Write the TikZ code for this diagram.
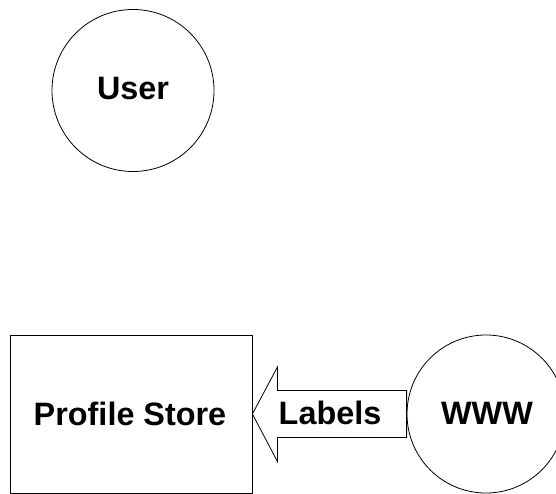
\documentclass[tikz,border=0pt]{standalone}
\usepackage{fontspec}
\setmainfont{Liberation Sans}
\usetikzlibrary{calc}
\begin{document}
\begin{tikzpicture}[x=1bp,y=-1bp,
  lbl/.style={font=\fontsize{32.5}{32.5}\selectfont\bfseries, inner sep=0pt},
  ent/.style={draw, line width=0.8bp},
  circ/.style={ent, circle, inner sep=0pt},
  shaftarrow/.style={draw, line width=0.8bp, line join=miter}]
\useasboundingbox (0,0) rectangle (556,494);
\node[circ, minimum size=162bp] (user) at (133,90.5) {};
\node[lbl] (usertext) at (133,89) {User};
\node[ent, minimum width=242bp, minimum height=158bp, inner sep=0pt] (store) at (131,414) {};
\node[lbl] (storetext) at (130,414) {Profile Store};
\node[circ, minimum size=158bp] (www) at (486,414) {};
\node[lbl] (wwwtext) at (487,413) {WWW};
\draw[shaftarrow] (store.east) -- ++(25,-47) -- ++(0,23.5)
  -- ($(www.west)+(0,-23.5)$) -- ($(www.west)+(0,23.5)$)
  -- ($(store.east)+(25,23.5)$) -- ++(0,24) -- cycle;
\node[lbl] (labels) at (330,413) {Labels};
\end{tikzpicture}
\end{document}
